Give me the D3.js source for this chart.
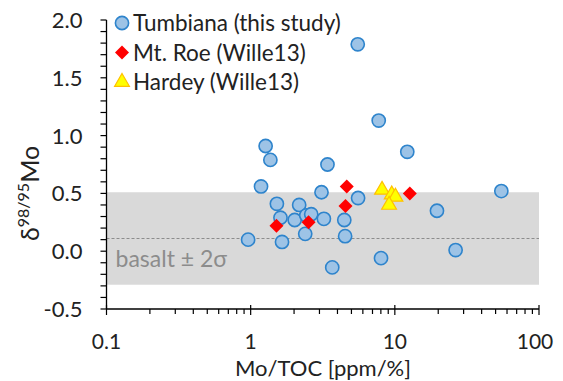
<!DOCTYPE html>
<html>
<head>
<meta charset="utf-8">
<script src="https://cdn.jsdelivr.net/npm/d3@7"></script>
<style>
  body { margin: 0; background: #fff; }
  text { font-family: Lato, "Open Sans", sans-serif; }
</style>
</head>
<body>
<div id="chart"></div>
<script>
// Tumbiana (this study): Mo/TOC and d98/95Mo
const tumbianaX = [0.96, 1.18, 1.27, 1.37, 1.52, 1.61, 1.65, 2.02, 2.17, 2.39, 2.43, 2.63, 3.10, 3.22, 3.41, 3.68, 4.46, 4.52, 5.56, 5.53, 7.73, 8.02, 12.2, 19.6, 26.4, 54.8];
const tumbianaY = [0.10, 0.56, 0.91, 0.79, 0.41, 0.29, 0.08, 0.27, 0.40, 0.15, 0.31, 0.32, 0.51, 0.28, 0.75, -0.14, 0.27, 0.13, 0.46, 1.79, 1.13, -0.06, 0.86, 0.35, 0.01, 0.52];
// Mt. Roe (Wille13)
const roeX = [1.51, 2.52, 4.64, 4.55, 12.7];
const roeY = [0.22, 0.25, 0.56, 0.39, 0.50];
// Hardey (Wille13)
const hardeyX = [8.15, 9.52, 10.1, 9.12];
const hardeyY = [0.53, 0.49, 0.47, 0.40];

const basaltMean = 0.11;
const basalt2s = 0.40;

const xTickValues = [0.1, 1, 10, 100];
const yTickValues = [-0.5, 0, 0.5, 1.0, 1.5, 2.0];

const width = 563, height = 381;
const margin = { left: 106.5, right: 24, top: 20, bottom: 72 };

const svg = d3.select("#chart").append("svg")
  .attr("width", width)
  .attr("height", height);

const x = d3.scaleLog().domain([0.1, 100]).range([margin.left, width - margin.right]);
const y = d3.scaleLinear().domain([-0.5, 2.0]).range([height - margin.bottom, margin.top]);

// basalt band
svg.append("rect")
  .attr("x", x(0.1))
  .attr("y", y(basaltMean + basalt2s))
  .attr("width", x(100) - x(0.1))
  .attr("height", y(basaltMean - basalt2s) - y(basaltMean + basalt2s))
  .attr("fill", "#d9d9d9");

svg.append("line")
  .attr("x1", x(0.1)).attr("x2", x(100))
  .attr("y1", y(basaltMean)).attr("y2", y(basaltMean))
  .attr("stroke", "#8c8c8c")
  .attr("stroke-width", 1.2)
  .attr("stroke-dasharray", "3,2");

svg.append("text")
  .attr("x", x(0.1) + 9)
  .attr("y", y(basaltMean) + 29)
  .attr("fill", "#8c8c8c")
  .attr("font-size", 23)
  .text("basalt \u00b1 2\u03c3");

// axes
const yMinor = d3.range(-5, 21).map(d => d / 10);
const xMinor = [];
[0.1, 1, 10].forEach(dec => { for (let k = 2; k <= 9; k++) xMinor.push(dec * k); });

const yAxis = svg.append("g").attr("transform", `translate(${x(0.1)},0)`);
yAxis.append("line").attr("y1", y(-0.5)).attr("y2", y(2.0)).attr("stroke", "#000").attr("stroke-width", 1.3);
yAxis.selectAll(".ytick").data(yMinor).join("line")
  .attr("x1", -6).attr("x2", 0)
  .attr("y1", d => y(d)).attr("y2", d => y(d))
  .attr("stroke", "#000").attr("stroke-width", 1.2);
yAxis.selectAll(".ylab").data(yTickValues).join("text")
  .attr("x", -24)
  .attr("y", d => y(d))
  .attr("dy", "0.36em")
  .attr("text-anchor", "end")
  .attr("font-size", 22)
  .attr("fill", "#222")
  .text(d => d.toFixed(1));

const xAxis = svg.append("g").attr("transform", `translate(0,${y(-0.5)})`);
xAxis.append("line").attr("x1", x(0.1)).attr("x2", x(100)).attr("stroke", "#000").attr("stroke-width", 1.3);
xAxis.selectAll(".xminor").data(xMinor).join("line")
  .attr("x1", d => x(d)).attr("x2", d => x(d))
  .attr("y1", 0).attr("y2", 5)
  .attr("stroke", "#000").attr("stroke-width", 1.2);
xAxis.selectAll(".xmajor").data(xTickValues).join("line")
  .attr("x1", d => x(d)).attr("x2", d => x(d))
  .attr("y1", -4).attr("y2", 6)
  .attr("stroke", "#000").attr("stroke-width", 1.2);
xAxis.selectAll(".xlab").data(xTickValues).join("text")
  .attr("x", d => x(d) - (d === 100 ? 4 : 0))
  .attr("y", 40)
  .attr("text-anchor", "middle")
  .attr("font-size", 21)
  .attr("fill", "#222")
  .text(d => d3.format("~g")(d));

svg.append("text")
  .attr("x", 323)
  .attr("y", 376)
  .attr("text-anchor", "middle")
  .attr("font-size", 22)
  .attr("fill", "#222")
  .text("Mo/TOC [ppm/%]");

const yTitle = svg.append("text")
  .attr("transform", `translate(39,${y(0.5)}) rotate(-90)`)
  .attr("text-anchor", "middle")
  .attr("font-size", 25)
  .attr("fill", "#222");
yTitle.append("tspan").text("\u03b4");
yTitle.append("tspan").attr("font-size", 16).attr("dy", -10).text("98/95");
yTitle.append("tspan").attr("dy", 10).text("Mo");

// markers
const tri = d3.symbol().type(d3.symbolTriangle).size(95);
const diamond = d => `M0,${-d}L${d},0L0,${d}L${-d},0Z`;

svg.append("g").selectAll("circle")
  .data(d3.zip(tumbianaX, tumbianaY))
  .join("circle")
  .attr("cx", d => x(d[0]))
  .attr("cy", d => y(d[1]))
  .attr("r", 6.6)
  .attr("fill", "#9dc3e6")
  .attr("stroke", "#2e84cc")
  .attr("stroke-width", 1.6);

svg.append("g").selectAll("path")
  .data(d3.zip(roeX, roeY))
  .join("path")
  .attr("transform", d => `translate(${x(d[0])},${y(d[1])})`)
  .attr("d", diamond(7))
  .attr("fill", "#ff0000");

svg.append("g").selectAll("path")
  .data(d3.zip(hardeyX, hardeyY))
  .join("path")
  .attr("transform", d => `translate(${x(d[0])},${y(d[1])})`)
  .attr("d", tri)
  .attr("fill", "#ffff00")
  .attr("stroke", "#ffc000")
  .attr("stroke-width", 1.2);

// legend
const legendItems = ["Tumbiana (this study)", "Mt. Roe (Wille13)", "Hardey (Wille13)"];
const legend = svg.append("g");
legendItems.forEach((name, i) => {
  const ly = 23 + i * 29.5;
  if (i === 0) {
    legend.append("circle").attr("cx", 122).attr("cy", ly).attr("r", 6.6)
      .attr("fill", "#9dc3e6").attr("stroke", "#2e84cc").attr("stroke-width", 1.6);
  } else if (i === 1) {
    legend.append("path").attr("transform", `translate(122,${ly})`).attr("d", diamond(7)).attr("fill", "#ff0000");
  } else {
    legend.append("path").attr("transform", `translate(122,${ly})`).attr("d", tri)
      .attr("fill", "#ffff00").attr("stroke", "#ffc000").attr("stroke-width", 1.2);
  }
  legend.append("text")
    .attr("x", 133)
    .attr("y", ly)
    .attr("dy", "0.36em")
    .attr("font-size", 22.5)
    .attr("fill", "#222")
    .text(name);
});
</script>
</body>
</html>
